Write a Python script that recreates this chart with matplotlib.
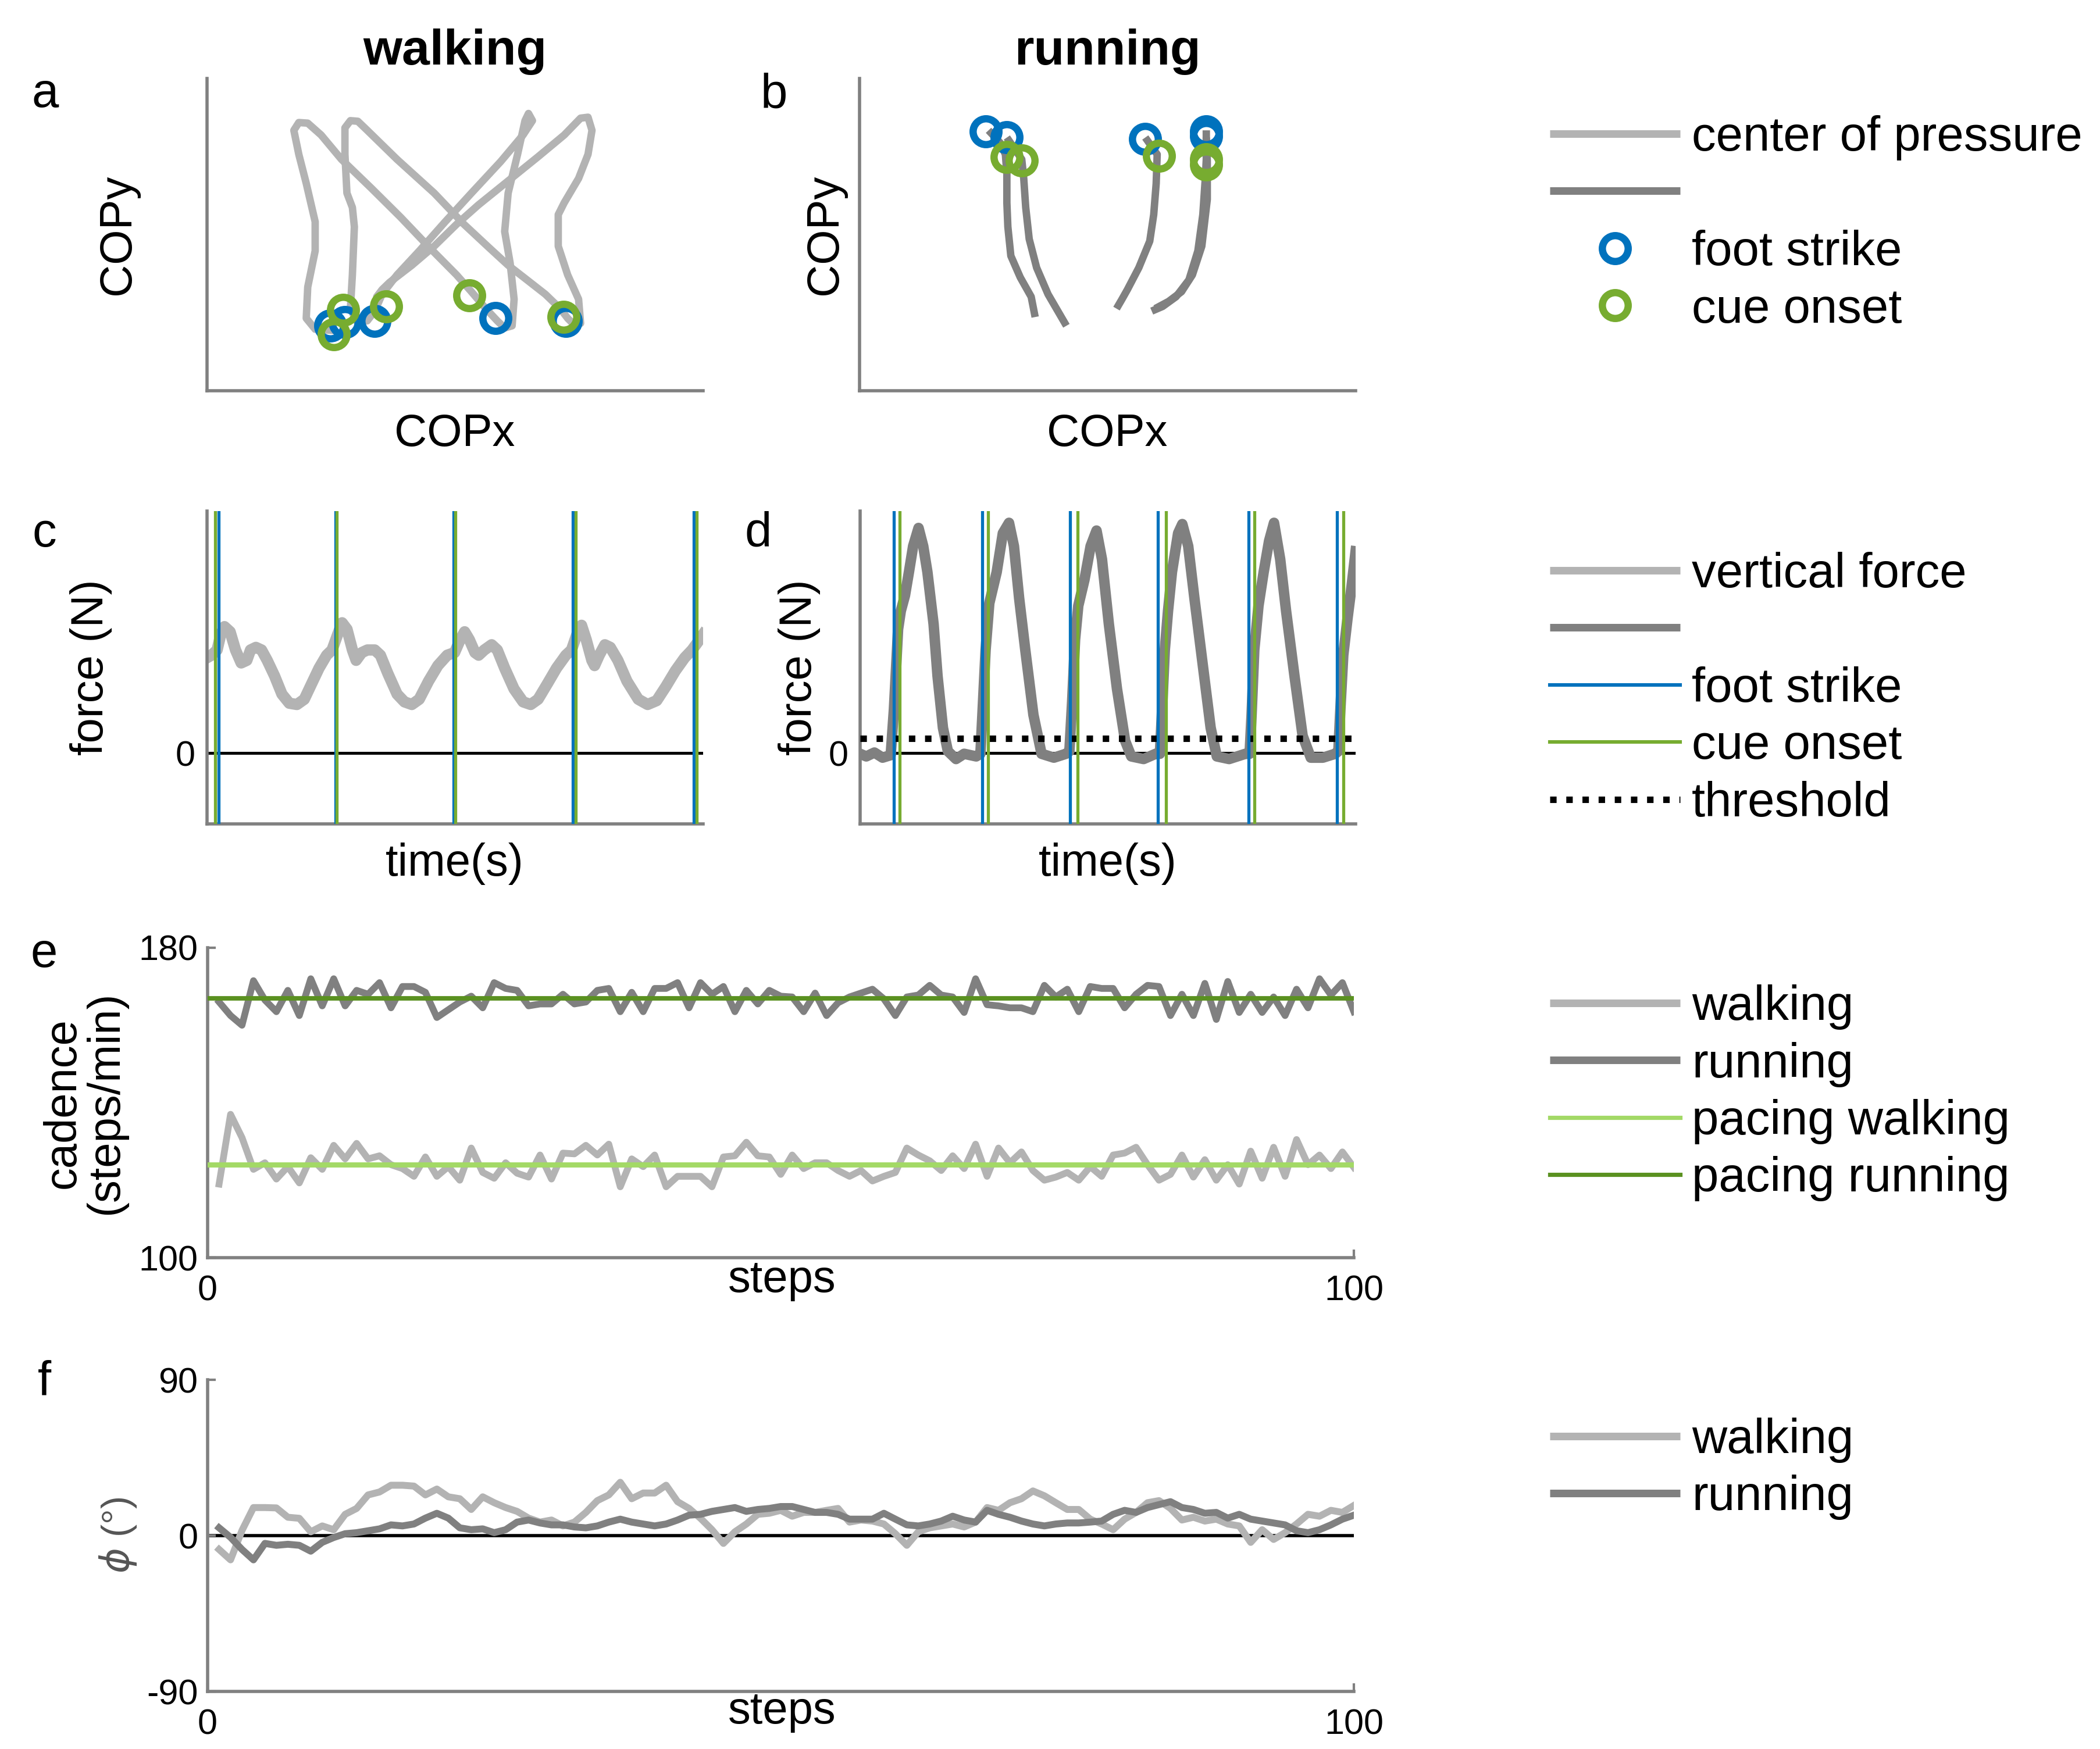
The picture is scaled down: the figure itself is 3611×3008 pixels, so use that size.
import matplotlib
matplotlib.use('Agg')
import matplotlib.pyplot as plt
from matplotlib.lines import Line2D

W, H, DPI = 3612, 3008, 200
plt.rcParams['font.family'] = ['Liberation Sans', 'DejaVu Sans']
NARROW = ['Liberation Sans Narrow', 'Liberation Sans', 'DejaVu Sans']

LIGHT = '#b3b3b3'
DARK = '#808080'
BLUE = '#0072bd'
GREEN = '#77ac30'
PACE_WALK = '#a3d966'
PACE_RUN = '#5a9120'
SPINE = '#808080'

# ---------------- data ----------------
# (a) walking centre of pressure (arbitrary units, 0-100)
walk_cop_x = [25.6, 21.8, 20.0, 20.3, 21.8, 21.8, 20.0, 18.5, 17.5, 18.5, 20.3, 23.0, 27.1, 33.1, 39.0,
              45.0, 50.3, 53.3, 56.2, 58.5, 60.0, 61.5, 61.9, 61.1, 60.0, 60.7, 62.6, 64.1, 64.8, 65.6,
              63.7, 59.2, 53.3, 48.0, 42.8, 38.3, 35.3, 33.8, 32.3, 30.1, 28.9, 29.3, 29.7, 29.3, 28.2,
              27.8, 27.8, 28.9, 30.4, 32.3, 38.3, 45.8, 51.8, 57.0, 60.7, 64.5, 68.2, 71.2, 72.7, 74.2,
              75.3, 74.9, 72.7, 70.8, 70.8, 72.0, 74.9, 76.8, 77.6, 76.8, 75.3, 72.0, 66.7, 60.7, 54.7,
              50.3, 45.8, 41.3, 36.8, 35.3, 34.2]
walk_cop_y = [19.3, 19.7, 23.2, 33.2, 44.8, 54.1, 66.4, 75.7, 83.4, 85.9, 85.7, 81.9, 74.1, 64.9, 55.6,
              45.6, 37.1, 31.7, 26.3, 22.4, 20.1, 20.8, 29.3, 40.9, 51.0, 63.3, 75.7, 86.5, 88.8, 86.5,
              81.9, 73.4, 63.3, 54.1, 44.8, 37.1, 30.9, 25.5, 22.4, 22.4, 26.3, 37.1, 52.5, 58.7, 63.3,
              75.7, 84.2, 86.5, 86.3, 83.4, 74.1, 63.3, 53.3, 45.6, 40.2, 35.5, 30.9, 26.3, 23.2, 20.8,
              21.6, 29.3, 37.1, 46.3, 56.4, 60.2, 68.0, 75.7, 83.4, 87.6, 87.3, 81.9, 74.9, 67.2, 59.5,
              53.3, 46.3, 40.2, 34.7, 32.4, 30.1]
walk_strike_x = [24.8, 27.8, 33.8, 58.1, 72.3]
walk_strike_y = [20.8, 22.0, 22.4, 23.2, 22.4]
walk_cue_x = [25.6, 27.4, 36.1, 52.9, 71.9]
walk_cue_y = [18.1, 25.9, 27.0, 30.5, 23.6]

# (b) running centre of pressure, one list per stance
run_cop_x = [
    [26.0, 28.3, 29.4, 29.7, 29.7, 29.9, 30.5, 32.4, 34.6, 35.4],
    [29.7, 32.7, 33.1, 33.5, 34.2, 35.7, 38.0, 41.7],
    [57.6, 60.0, 59.8, 59.3, 58.5, 56.3, 54.0, 52.9, 51.8],
    [69.9, 69.9, 69.7, 69.2, 68.2, 66.4, 63.8, 61.1, 58.9],
    [69.9, 70.1, 70.1, 69.0, 67.1, 64.9, 62.3, 59.6],
]
run_cop_y = [
    [83.4, 79.5, 75.7, 69.5, 60.2, 52.5, 43.2, 36.3, 30.1, 23.6],
    [81.1, 74.1, 68.0, 58.7, 48.6, 39.4, 30.9, 20.8],
    [81.1, 75.7, 66.4, 56.4, 47.9, 39.4, 32.4, 29.3, 26.3],
    [83.4, 74.1, 68.0, 56.4, 44.8, 35.5, 30.1, 27.0, 25.5],
    [81.1, 73.6, 61.3, 46.3, 37.1, 31.7, 28.6, 26.3],
]
run_strike_x = [25.4, 29.7, 57.6, 69.9, 69.9]
run_strike_y = [83.0, 81.1, 80.7, 83.0, 81.5]
run_cue_x = [29.7, 32.7, 60.4, 69.9, 69.9]
run_cue_y = [74.9, 73.7, 75.3, 74.1, 72.5]

# (c) walking vertical force
walk_t = [0.000, 0.018, 0.041, 0.056, 0.071, 0.094, 0.116, 0.139, 0.162, 0.177, 0.199, 0.222, 0.245,
          0.275, 0.305, 0.335, 0.366, 0.396, 0.426, 0.456, 0.487, 0.509, 0.532, 0.550, 0.570, 0.592,
          0.607, 0.630, 0.653, 0.683, 0.706, 0.736, 0.774, 0.804, 0.834, 0.864, 0.902, 0.940, 0.978,
          1.008, 1.031, 1.049, 1.068, 1.091, 1.106, 1.129, 1.159, 1.182, 1.212, 1.250, 1.287, 1.318,
          1.348, 1.386, 1.423, 1.461, 1.484, 1.506, 1.525, 1.544, 1.567, 1.578, 1.597, 1.620, 1.642,
          1.673, 1.710, 1.756, 1.794, 1.831, 1.869, 1.907, 1.945, 1.975, 1.998, 2.020]
walk_force = [986, 1012, 1066, 1227, 1307, 1254, 1066, 932, 959, 1066, 1093, 1066, 959, 798, 610, 516,
              503, 557, 718, 878, 1012, 1066, 1227, 1347, 1280, 1066, 959, 1039, 1066, 1066, 1012, 825,
              610, 530, 503, 557, 744, 905, 1012, 1039, 1173, 1254, 1173, 1039, 1012, 1066, 1120, 1066,
              878, 664, 530, 503, 557, 718, 878, 1012, 1066, 1227, 1321, 1173, 959, 905, 1012, 1120,
              1093, 959, 744, 557, 503, 543, 691, 851, 986, 1066, 1146, 1227]
walk_strike_t = [0.048, 0.524, 1.003, 1.490, 1.983]
walk_cue_t = [0.033, 0.527, 1.012, 1.502, 1.994]

# (d) running vertical force
run_t = [0.000, 0.025, 0.058, 0.091, 0.124, 0.137, 0.154, 0.165, 0.182, 0.198, 0.215, 0.237, 0.256,
         0.273, 0.298, 0.314, 0.336, 0.356, 0.389, 0.422, 0.471, 0.488, 0.496, 0.509, 0.524, 0.554,
         0.579, 0.604, 0.624, 0.645, 0.670, 0.703, 0.736, 0.786, 0.835, 0.849, 0.860, 0.872, 0.885,
         0.910, 0.935, 0.959, 0.981, 1.009, 1.042, 1.075, 1.100, 1.150, 1.199, 1.216, 1.224, 1.236,
         1.249, 1.265, 1.290, 1.307, 1.331, 1.356, 1.389, 1.422, 1.447, 1.497, 1.563, 1.580, 1.588,
         1.599, 1.616, 1.637, 1.659, 1.679, 1.704, 1.728, 1.762, 1.795, 1.828, 1.877, 1.927, 1.940,
         1.947, 1.960, 1.977, 1.993, 2.010]
run_force = [-6, -33, 7, -46, -20, 449, 1280, 1468, 1629, 1870, 2138, 2326, 2138, 1870, 1334, 798, 262,
             21, -60, -6, -33, -6, 396, 1066, 1548, 1870, 2272, 2379, 2138, 1602, 1066, 396, -6, -46,
             -6, 21, 530, 1173, 1522, 1790, 2138, 2299, 2004, 1334, 664, 128, -33, -60, -6, -6, 396,
             1066, 1468, 1870, 2272, 2366, 2138, 1602, 932, 262, -33, -60, -6, -6, 396, 1066, 1522,
             1870, 2192, 2379, 2004, 1468, 798, 181, -46, -46, -6, 21, 396, 1012, 1388, 1709, 2085]
run_strike_t = [0.137, 0.496, 0.852, 1.207, 1.575, 1.935]
run_cue_t = [0.160, 0.518, 0.882, 1.241, 1.599, 1.960]
force_threshold = 150

# (e) cadence per step
steps = list(range(1, 101))
walk_cadence = [119, 137, 131, 122.8, 124.5, 120.3, 123.5, 119.3, 125.8, 122.8,
                129, 125.5, 129.5, 125.5, 126.3, 124, 123, 121, 126, 121,
                123.5, 120, 128.3, 122, 120.5, 124.5, 121.8, 120.8, 126.5, 120.3,
                127, 126.8, 129, 126.5, 129.3, 118.3, 125.5, 123.5, 126.5, 118.3,
                121, 121, 121, 118.3, 126, 126.3, 129.8, 126.3, 126, 121.5,
                126.5, 123, 124.5, 124.5, 122.5, 121, 122.5, 119.8, 121, 122,
                128.3, 126.5, 125, 122.5, 126.3, 123, 129.3, 121, 128.3, 124.5,
                127.3, 122.5, 120, 120.8, 122, 120, 123.5, 121, 126.5, 127,
                128.5, 124, 120, 121.5, 126.5, 120.8, 125.3, 120, 124, 119,
                127.5, 120.5, 128.5, 121, 130.5, 124, 126.5, 123, 127.3, 123.3]
run_cadence = [166, 162.5, 160, 171.5, 166.5, 163.5, 169, 162.5, 172, 165,
               172, 165, 169, 168, 171, 164.5, 170, 170, 168.5, 162,
               164, 166, 167.5, 164.5, 171, 169.5, 169, 165, 165.5, 165.5,
               168, 165.5, 166, 169, 169.5, 163.5, 168.5, 163.5, 169.5, 169.5,
               171, 164.5, 171, 168, 170, 163.5, 169, 165.5, 169, 167.5,
               167.3, 163.5, 168.3, 162.5, 165.8, 167.3, 168.3, 169.3, 166.8, 162.5,
               167.3, 167.8, 170.3, 167.8, 167.3, 163.3, 172, 165.3, 165, 164.5,
               164.5, 163.5, 170.3, 167.3, 169.3, 163.5, 170, 169.5, 169.5, 164.5,
               168, 170.3, 170, 162.5, 168, 162.5, 170.8, 161.5, 171.3, 163.3,
               168, 163.3, 167.3, 162.5, 169.3, 164.5, 172, 167.8, 171, 163.5]
pacing_walk = 124
pacing_run = 167

# (f) relative phase per step (deg)
walk_phase = [-8, -14, 3, 16.2, 16.2, 16, 10.6, 10, 2.2, 5.6,
              3.4, 12.3, 15.7, 23.5, 25.2, 29.1, 29.1, 28.6, 23.5, 26.9,
              22.4, 21.3, 15.1, 22.4, 19, 16.2, 14, 10.1, 7.8, 9,
              5.6, 7.8, 13.4, 20.2, 23.5, 30.8, 21.3, 24.6, 24.6, 29.1,
              19.6, 15.7, 10, 3.4, -4.5, 2.2, 6.7, 12.3, 12.9, 14.6,
              11.2, 13.4, 13.4, 14.6, 15.7, 7.8, 9, 8.4, 6.7, 1.1,
              -5.6, 2.2, 4.5, 5.6, 6.7, 5, 7.8, 16.2, 14.6, 19,
              21.3, 25.8, 23, 19, 15.1, 15.1, 9.5, 6.7, 3.4, 9.5,
              13.4, 19, 20.2, 15.7, 9, 10.6, 8.4, 9.5, 6.7, 5.6,
              -3.9, 3.4, -2.2, 1.7, 6.7, 12.3, 11.2, 14.6, 13.4, 17.4]
run_phase = [4.5, -1, -8, -14, -4.5, -5.6, -5, -5.6, -9, -3.9,
             -1.1, 1.1, 1.7, 2.8, 3.9, 6.2, 5.6, 6.7, 10.1, 12.9,
             10.1, 4.5, 3.4, 3.9, 1.7, 3.4, 7.8, 9, 7.3, 6.2,
             6.2, 5, 4.5, 5.6, 7.8, 9.5, 7.8, 6.7, 5.6, 6.7,
             9, 11.8, 12.3, 14, 15.1, 16.2, 14, 15.1, 15.7, 16.8,
             16.8, 15.1, 13.4, 13.4, 12.3, 9.5, 9.5, 9.5, 12.9, 9.5,
             6.2, 5.6, 6.7, 8.4, 11.2, 9, 7.8, 14.6, 12.3, 10.6,
             8.4, 6.7, 5.6, 6.7, 7.3, 7.3, 7.8, 8.4, 12.3, 14.6,
             13.4, 16.2, 17.9, 19.6, 16.2, 15.1, 12.9, 13.4, 10.1, 12.3,
             9.5, 8.4, 7.3, 6.2, 2.8, 1.7, 3.4, 6.2, 9.5, 11.8]

cad_ticks = [100, 180]
phase_ticks = [-90, 0, 90]
step_ticks = [0, 100]

# ---------------- figure ----------------
fig = plt.figure(figsize=(W / DPI, H / DPI), dpi=DPI)


def box(l, t, r, b):
    return [l / W, 1 - b / H, (r - l) / W, (b - t) / H]


def fx(x):
    return x / W


def fy(y):
    return 1 - y / H


def style(ax):
    for s in ('top', 'right'):
        ax.spines[s].set_visible(False)
    for s in ('left', 'bottom'):
        ax.spines[s].set_color(SPINE)
        ax.spines[s].set_linewidth(2.0)


axA = fig.add_axes(box(356, 135, 1209, 672))
axB = fig.add_axes(box(1478, 135, 2331, 672))
axC = fig.add_axes(box(356, 879, 1209, 1417))
axD = fig.add_axes(box(1479, 879, 2331, 1417))
axE = fig.add_axes(box(357, 1630, 2328, 2163))
axF = fig.add_axes(box(357, 2373, 2328, 2909))
for ax in (axA, axB, axC, axD, axE, axF):
    style(ax)

ring = dict(ls='none', marker='o', ms=16, mew=4.5, mfc='none')

# a
axA.plot(walk_cop_x, walk_cop_y, color=LIGHT, lw=4.6, solid_joinstyle='round', solid_capstyle='round')
axA.plot(walk_strike_x, walk_strike_y, mec=BLUE, **ring)
axA.plot(walk_cue_x, walk_cue_y, mec=GREEN, **ring)
# b
for xs, ys in zip(run_cop_x, run_cop_y):
    axB.plot(xs, ys, color=DARK, lw=4.6, solid_joinstyle='round', solid_capstyle='butt')
axB.plot(run_strike_x, run_strike_y, mec=BLUE, **ring)
axB.plot(run_cue_x, run_cue_y, mec=GREEN, **ring)
for ax in (axA, axB):
    ax.set_xlim(0, 100)
    ax.set_ylim(0, 100)
    ax.set_xticks([])
    ax.set_yticks([])

# c
axC.axhline(0, color='black', lw=1.8, zorder=1)
axC.plot(walk_t, walk_force, color=LIGHT, lw=7.0, zorder=2, solid_joinstyle='round')
for t in walk_strike_t:
    axC.axvline(t, color=BLUE, lw=1.9, zorder=3)
for t in walk_cue_t:
    axC.axvline(t, color=GREEN, lw=1.9, zorder=4)
axC.set_xlim(0, 2.02)
# d
axD.axhline(0, color='black', lw=1.8, zorder=1)
axD.plot(run_t, run_force, color=DARK, lw=6.5, zorder=2, solid_joinstyle='round')
axD.axhline(force_threshold, color='black', lw=4.0, ls=(0, (1, 1.5)), zorder=3)
for t in run_strike_t:
    axD.axvline(t, color=BLUE, lw=1.9, zorder=4)
for t in run_cue_t:
    axD.axvline(t, color=GREEN, lw=1.9, zorder=5)
axD.set_xlim(0, 2.01)
for ax in (axC, axD):
    ax.set_ylim(-730, 2500)
    ax.set_xticks([])
    ax.set_yticks([0])
    ax.set_yticklabels(['0'], fontfamily=NARROW, fontsize=22)
    ax.tick_params(axis='y', length=0, pad=7.5)

# e
axE.plot(steps, walk_cadence, color=LIGHT, lw=4.2, zorder=2)
axE.plot(steps, run_cadence, color=DARK, lw=4.2, zorder=3)
axE.plot([0, 100], [pacing_walk, pacing_walk], color=PACE_WALK, lw=3.2, zorder=4)
axE.plot([0, 100], [pacing_run, pacing_run], color=PACE_RUN, lw=2.8, zorder=5)
axE.set_xlim(0, 100)
axE.set_ylim(100, 180)
axE.set_yticks(cad_ticks)
axE.set_yticklabels([str(v) for v in cad_ticks], fontfamily=NARROW, fontsize=22)

# f
axF.axhline(0, color='black', lw=2.0, zorder=1)
axF.plot(steps, walk_phase, color=LIGHT, lw=4.3, zorder=2)
axF.plot(steps, run_phase, color=DARK, lw=4.3, zorder=3)
axF.set_xlim(0, 100)
axF.set_ylim(-90, 90)
axF.set_yticks(phase_ticks)
axF.set_yticklabels([str(v) for v in phase_ticks], fontfamily=NARROW, fontsize=22)

for ax in (axE, axF):
    ax.set_xticks(step_ticks)
    ax.set_xticklabels([str(v) for v in step_ticks], fontfamily=NARROW, fontsize=22)
    ax.tick_params(direction='in', length=5, width=1.5, color=SPINE)
    ax.tick_params(axis='y', pad=6)
    ax.tick_params(axis='x', pad=10.5)

# ---------------- texts ----------------
LAB = 28
fig.text(fx(782), fy(111), 'walking', ha='center', va='baseline', fontsize=31, fontweight='bold')
fig.text(fx(1904), fy(111), 'running', ha='center', va='baseline', fontsize=31, fontweight='bold')
for letter, x, y in (('a', 78, 184), ('b', 1331, 186), ('c', 76, 940), ('d', 1304, 940),
                     ('e', 76, 1663), ('f', 76, 2400)):
    fig.text(fx(x), fy(y), letter, ha='center', va='baseline', fontsize=30)

fig.text(fx(782), fy(767), 'COPx', ha='center', va='baseline', fontsize=LAB)
fig.text(fx(1904), fy(767), 'COPx', ha='center', va='baseline', fontsize=LAB)
fig.text(fx(203), fy(403), 'COPy', ha='center', va='center', rotation=90, fontsize=LAB)
fig.text(fx(1419), fy(403), 'COPy', ha='center', va='center', rotation=90, fontsize=LAB)
fig.text(fx(157), fy(1148), 'force (N)', ha='center', va='center', rotation=90, fontsize=LAB)
fig.text(fx(1375), fy(1148), 'force (N)', ha='center', va='center', rotation=90, fontsize=LAB)
fig.text(fx(782), fy(1486), 'time(s)', ha='center', va='center', fontsize=LAB)
fig.text(fx(1905), fy(1486), 'time(s)', ha='center', va='center', fontsize=LAB)
fig.text(fx(145), fy(1897), 'cadence\n(steps/min)', ha='center', va='center', rotation=90,
         fontsize=LAB, linespacing=1.0, multialignment='center')
fig.text(fx(1345), fy(2202), 'steps', ha='center', va='center', fontsize=LAB)
fig.text(fx(1345), fy(2944), 'steps', ha='center', va='center', fontsize=LAB)
fig.text(fx(203), fy(2640), r'$\phi$ (°)', ha='center', va='center', rotation=90, fontsize=24,
         color='#555555')

# ---------------- legends ----------------
def add_legend(handles, labels, top):
    fig.legend(handles, labels, loc='upper left', bbox_to_anchor=(fx(2665), fy(top)),
               frameon=False, fontsize=30, handlelength=2.69, handletextpad=0.24,
               labelspacing=0.246, borderpad=0, borderaxespad=0, numpoints=1)


hl = dict(lw=4.7, solid_capstyle='butt')
add_legend([Line2D([], [], color=LIGHT, **hl), Line2D([], [], color=DARK, **hl),
            Line2D([], [], mec=BLUE, **ring), Line2D([], [], mec=GREEN, **ring)],
           ['center of pressure', '', 'foot strike', 'cue onset'], 198)
add_legend([Line2D([], [], color=LIGHT, **hl), Line2D([], [], color=DARK, **hl),
            Line2D([], [], color=BLUE, lw=2.2), Line2D([], [], color=GREEN, lw=2.2),
            Line2D([], [], color='black', lw=4.0, ls=(0, (1, 1.5)))],
           ['vertical force', '', 'foot strike', 'cue onset', 'threshold'], 949)
add_legend([Line2D([], [], color=LIGHT, **hl), Line2D([], [], color=DARK, **hl),
            Line2D([], [], color=PACE_WALK, lw=2.6), Line2D([], [], color=PACE_RUN, lw=2.6)],
           ['walking', 'running', 'pacing walking', 'pacing running'], 1693)
add_legend([Line2D([], [], color=LIGHT, **hl), Line2D([], [], color=DARK, **hl)],
           ['walking', 'running'], 2438)

fig.savefig('out.png', dpi=DPI)
